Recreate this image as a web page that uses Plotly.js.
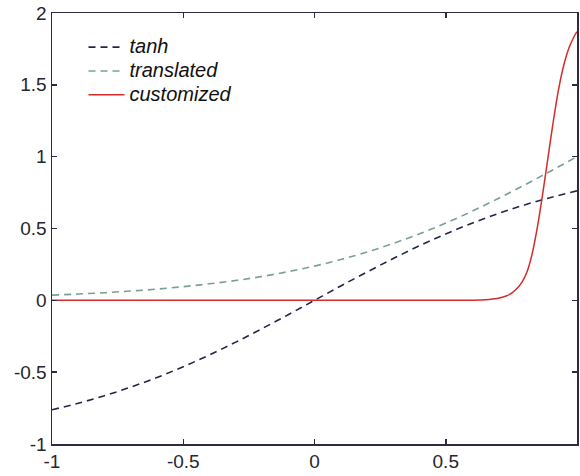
<!DOCTYPE html>
<html>
<head>
<meta charset="utf-8">
<script src="https://cdn.plot.ly/plotly-3.0.1.min.js"></script>
<style>html,body{margin:0;padding:0;background:#fff;}#chart{width:580px;height:476px;}</style>
</head>
<body>
<div id="chart"></div>
<script>
const xGrid = [-1, -0.9, -0.8, -0.7, -0.6, -0.5, -0.4, -0.3, -0.2, -0.1, 0, 0.1, 0.2, 0.3, 0.4, 0.5, 0.6, 0.7, 0.8, 0.9, 1];
const tanhValues = [-0.762, -0.716, -0.664, -0.604, -0.537, -0.462, -0.380, -0.291, -0.197, -0.100, 0, 0.100, 0.197, 0.291, 0.380, 0.462, 0.537, 0.604, 0.664, 0.716, 0.762];
const translatedValues = [0.036, 0.044, 0.053, 0.065, 0.078, 0.095, 0.115, 0.138, 0.166, 0.200, 0.238, 0.284, 0.336, 0.396, 0.463, 0.538, 0.620, 0.709, 0.803, 0.900, 1.000];
const customX = [-1, -0.5, 0, 0.5, 0.6, 0.65, 0.7, 0.73, 0.75, 0.77, 0.79, 0.81, 0.83, 0.85, 0.87, 0.89, 0.91, 0.93, 0.95, 0.97, 0.99, 1.0];
const customValues = [0, 0, 0, 0, 0.001, 0.004, 0.015, 0.03, 0.048, 0.08, 0.125, 0.2, 0.33, 0.52, 0.75, 1.0, 1.25, 1.47, 1.64, 1.76, 1.84, 1.87];
const seriesNames = ['tanh', 'translated', 'customized'];
const xTicks = [-1, -0.5, 0, 0.5, 1];
const xTickText = ['-1', '-0.5', '0', '0.5', '1'];
const yTicks = [-1, -0.5, 0, 0.5, 1, 1.5, 2];
const yTickText = ['-1', '-0.5', '0', '0.5', '1', '1.5', '2'];

const axisColor = '#2b2b47';
const labelColor = '#26262e';
const font = 'Liberation Sans, Arial, Helvetica, sans-serif';
const big = n => '<span style="font-size:20px">' + n + '</span>';

const traces = [
  {x: xGrid, y: tanhValues, name: big(seriesNames[0]), mode: 'lines',
   line: {color: '#25254a', width: 1.6, dash: '7px,5px', shape: 'spline'}},
  {x: xGrid, y: translatedValues, name: big(seriesNames[1]), mode: 'lines',
   line: {color: '#79a097', width: 1.6, dash: '7px,5px', shape: 'spline'}},
  {x: customX, y: customValues, name: big(seriesNames[2]), mode: 'lines',
   line: {color: '#d42b2b', width: 1.5, shape: 'spline', smoothing: 0.8}}
];

const axisCommon = {
  showgrid: false, zeroline: false, showline: true, linecolor: axisColor, linewidth: 1.5,
  mirror: 'ticks', ticks: 'inside', ticklen: 5, tickwidth: 1.5, tickcolor: axisColor,
  tickfont: {family: font, size: 19, color: labelColor}
};

const layout = {
  width: 580, height: 476,
  margin: {l: 52, r: 3, t: 13, b: 32, pad: 0},
  paper_bgcolor: '#ffffff', plot_bgcolor: '#ffffff',
  showlegend: true,
  legend: {x: 0.06, y: 0.96, xanchor: 'left', yanchor: 'top', bgcolor: 'rgba(0,0,0,0)',
           font: {family: font, size: 16, color: '#111', style: 'italic'}, itemwidth: 36},
  xaxis: Object.assign({}, axisCommon, {range: [-1, 1], tickvals: xTicks, ticktext: xTickText}),
  yaxis: Object.assign({}, axisCommon, {range: [-1, 2], tickvals: yTicks, ticktext: yTickText})
};

Plotly.newPlot('chart', traces, layout, {displayModeBar: false, staticPlot: true});
</script>
</body>
</html>
